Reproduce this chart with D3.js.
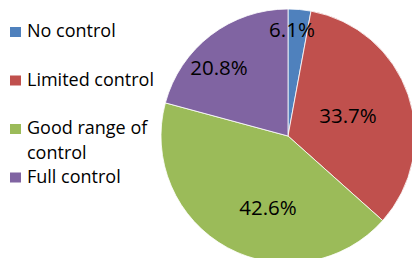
<!DOCTYPE html>
<html>
<head>
<meta charset="utf-8">
<script src="https://cdn.jsdelivr.net/npm/d3@7"></script>
<style>
  body { margin: 0; background: #fff; }
  svg { display: block; font-family: "Open Sans", sans-serif; }
</style>
</head>
<body>
<div class="container"></div>
<script>
// categories, drawn slice sizes and the printed labels
var categories = ["No control", "Limited control", "Good range of control", "Full control"];
var sliceValues = [2.9, 33.7, 42.6, 20.8];
var sliceLabels = ["6.1%", "33.7%", "42.6%", "20.8%"];
var legendLines = [["No control"], ["Limited control"], ["Good range of", "control"], ["Full control"]];
var colors = ["#4F81BD", "#C0504D", "#9BBB59", "#8064A2"];

var width = 412, height = 258;

var svg = d3.select(".container")
  .append("svg")
    .attr("width", width)
    .attr("height", height);

var data = categories.map(function(c, i) {
  return { name: c, value: sliceValues[i], label: sliceLabels[i], color: colors[i] };
});

var radius = 127;
var g = svg.append("g")
  .attr("transform", "translate(288,136)");

var pie = d3.pie()
  .sort(null)
  .value(function(d) { return d.value; });

var arc = d3.arc().innerRadius(0).outerRadius(radius);
var labelArc = d3.arc().innerRadius(radius * 0.62).outerRadius(radius * 0.62);

var arcs = pie(data);

g.selectAll("path")
  .data(arcs)
  .enter()
  .append("path")
    .attr("d", arc)
    .attr("fill", function(d) { return d.data.color; })
    .attr("stroke", "#fff")
    .attr("stroke-width", 0.8);

// label positions, nudged like the original
var labelShift = [[3, -56], [4, 0], [0, 0], [0, 0]];
g.selectAll("text.pct")
  .data(arcs)
  .enter()
  .append("text")
    .attr("class", "pct")
    .attr("text-anchor", "middle")
    .attr("dy", "0.35em")
    .style("font-size", "20.5px")
    .attr("fill", "#000")
    .attr("transform", function(d, i) {
      var c = labelArc.centroid(d);
      if (i === 0) return "translate(4,-106)";
      if (i === 1) return "translate(60,-20)";
      if (i === 2) return "translate(-20,72)";
      return "translate(-69,-68)";
    })
    .text(function(d) { return d.data.label; });

// legend
var legend = svg.append("g");
var item = legend.selectAll("g")
  .data(data)
  .enter()
  .append("g")
    .attr("transform", function(d, i) { return "translate(0," + (37 + i * 48.5) + ")"; });

item.append("rect")
  .attr("x", 10)
  .attr("y", -10)
  .attr("width", 11)
  .attr("height", 10)
  .attr("fill", function(d) { return d.color; });

item.append("text")
  .attr("x", 27)
  .style("font-size", "18px")
  .attr("fill", "#000")
  .selectAll("tspan")
  .data(function(d, i) { return legendLines[i]; })
  .enter()
  .append("tspan")
    .attr("x", 27)
    .attr("dy", function(d, j) { return j === 0 ? 0 : 25; })
    .text(function(d) { return d; });
</script>
</body>
</html>
